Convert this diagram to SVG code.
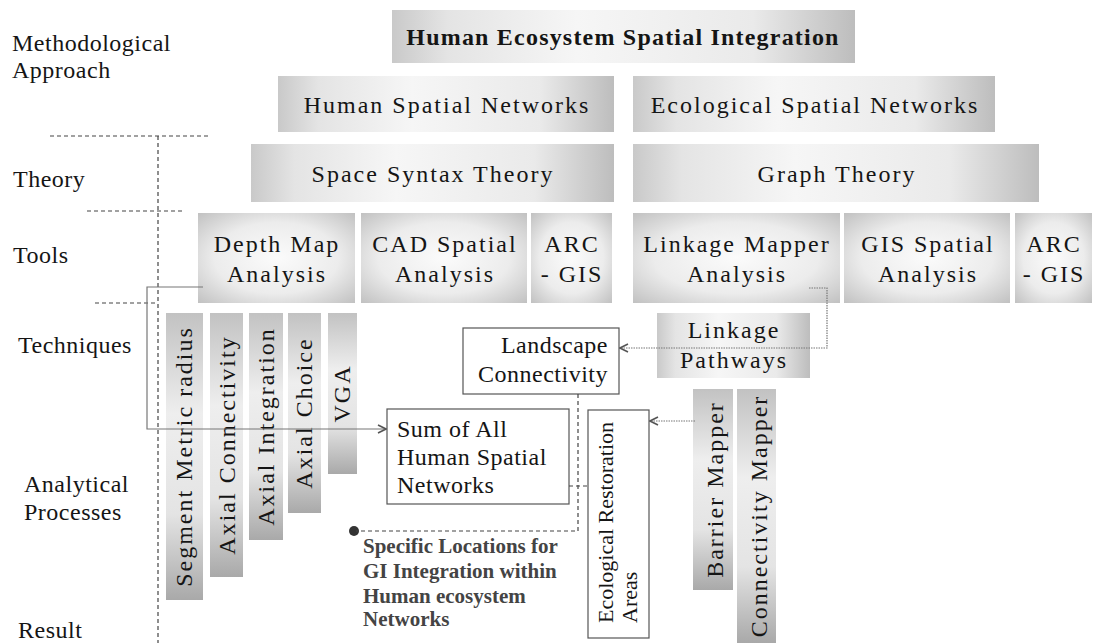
<svg xmlns="http://www.w3.org/2000/svg" width="1094" height="643" viewBox="0 0 1094 643">
  <defs>
    <!-- shaded fills for the grey boxes -->
    <linearGradient id="gBand" x1="0" y1="0" x2="1" y2="0">
      <stop offset="0" stop-color="#c9c9c9"/>
      <stop offset="0.12" stop-color="#e4e4e4"/>
      <stop offset="0.4" stop-color="#f6f6f6"/>
      <stop offset="0.78" stop-color="#eaeaea"/>
      <stop offset="1" stop-color="#bdbdbd"/>
    </linearGradient>
    <radialGradient id="gTool" cx="0.5" cy="0.5" r="0.72">
      <stop offset="0" stop-color="#fbfbfb"/>
      <stop offset="0.55" stop-color="#ececec"/>
      <stop offset="1" stop-color="#bfbfbf"/>
    </radialGradient>
    <linearGradient id="gBar" x1="0" y1="0" x2="0" y2="1">
      <stop offset="0" stop-color="#c2c2c2"/>
      <stop offset="0.35" stop-color="#eeeeee"/>
      <stop offset="0.7" stop-color="#e4e4e4"/>
      <stop offset="1" stop-color="#a9a9a9"/>
    </linearGradient>
    <marker id="arr" viewBox="0 0 10 10" refX="9" refY="5" markerWidth="10" markerHeight="10" markerUnits="userSpaceOnUse" orient="auto">
      <path d="M1,1 L9,5 L1,9" fill="none" stroke="#555" stroke-width="1.6"/>
    </marker>
    <style>
      text { font-family: "Liberation Serif", "Times New Roman", serif; fill: #151515; }
      .lbl { font-size: 24px; letter-spacing: 0.5px; }
      .ttl { font-size: 24px; font-weight: bold; letter-spacing: 1.2px; text-anchor: middle; }
      .bx { font-size: 24px; letter-spacing: 2px; text-anchor: middle; }
      .band { fill: url(#gBand); }
      .tool { fill: url(#gTool); }
      .bar { fill: url(#gBar); }
      .wbox { fill: #fff; stroke: #555; stroke-width: 1.2; }
      .wt { font-size: 24px; letter-spacing: 0.5px; }
      .eco { font-size: 22px; }
      .spec { font-size: 21px; font-weight: bold; fill: #444; }
      .rule { fill: none; stroke: #444; stroke-width: 1.2; stroke-dasharray: 4 3; }
      .link { fill: none; stroke: #777; stroke-width: 1.2; }
      .dot { stroke-dasharray: 1.5 1; }
    </style>
  </defs>

  <rect width="1094" height="643" fill="#fff"/>

  <!-- row labels -->
  <g id="row-labels">
    <text class="lbl" x="12" y="51">Methodological</text>
    <text class="lbl" x="12" y="78">Approach</text>
    <text class="lbl" x="13" y="187">Theory</text>
    <text class="lbl" x="13" y="263">Tools</text>
    <text class="lbl" x="18" y="353">Techniques</text>
    <text class="lbl" x="24" y="492">Analytical</text>
    <text class="lbl" x="24" y="520">Processes</text>
    <text class="lbl" x="18" y="638">Result</text>
  </g>

  <!-- row separators -->
  <g id="separators">
    <path class="rule" d="M50,136 H208"/>
    <path class="rule" d="M87,211 H183"/>
    <path class="rule" d="M95,303 H157"/>
    <path class="rule" d="M158,136 V643"/>
  </g>

  <!-- approach / theory -->
  <g id="n-title">
    <rect class="band" x="392" y="10" width="463" height="53"/>
    <text class="ttl" x="623" y="45">Human Ecosystem Spatial Integration</text>
  </g>
  <g id="n-human-networks">
    <rect class="band" x="278" y="76" width="336" height="56"/>
    <text class="bx" x="447" y="113">Human Spatial Networks</text>
  </g>
  <g id="n-eco-networks">
    <rect class="band" x="633" y="76" width="362" height="56"/>
    <text class="bx" x="815" y="113">Ecological Spatial Networks</text>
  </g>
  <g id="n-space-syntax">
    <rect class="band" x="251" y="144" width="363" height="58"/>
    <text class="bx" x="433" y="182">Space Syntax Theory</text>
  </g>
  <g id="n-graph-theory">
    <rect class="band" x="633" y="144" width="406" height="58"/>
    <text class="bx" x="837" y="182">Graph Theory</text>
  </g>

  <!-- tools -->
  <g id="n-depthmap">
    <rect class="tool" x="198" y="213" width="157" height="90"/>
    <text class="bx" x="277" y="252">Depth Map</text>
    <text class="bx" x="277" y="282">Analysis</text>
  </g>
  <g id="n-cad">
    <rect class="tool" x="361" y="213" width="166" height="90"/>
    <text class="bx" x="445" y="252">CAD Spatial</text>
    <text class="bx" x="445" y="282">Analysis</text>
  </g>
  <g id="n-arcgis-1">
    <rect class="tool" x="531" y="213" width="81" height="90"/>
    <text class="bx" x="572" y="252">ARC</text>
    <text class="bx" x="572" y="282">- GIS</text>
  </g>
  <g id="n-linkage-mapper">
    <rect class="tool" x="633" y="213" width="207" height="90"/>
    <text class="bx" x="737" y="252">Linkage Mapper</text>
    <text class="bx" x="737" y="282">Analysis</text>
  </g>
  <g id="n-gis-spatial">
    <rect class="tool" x="844" y="213" width="166" height="90"/>
    <text class="bx" x="928" y="252">GIS Spatial</text>
    <text class="bx" x="928" y="282">Analysis</text>
  </g>
  <g id="n-arcgis-2">
    <rect class="tool" x="1015" y="213" width="77" height="90"/>
    <text class="bx" x="1054" y="252">ARC</text>
    <text class="bx" x="1054" y="282">- GIS</text>
  </g>

  <!-- space syntax techniques (vertical bars) -->
  <g id="n-segment-metric">
    <rect class="bar" x="166" y="313" width="37" height="287"/>
    <text class="bx" transform="translate(192,456.5) rotate(-90)">Segment Metric radius</text>
  </g>
  <g id="n-axial-connectivity">
    <rect class="bar" x="210" y="313" width="33" height="264"/>
    <text class="bx" transform="translate(235,445) rotate(-90)">Axial Connectivity</text>
  </g>
  <g id="n-axial-integration">
    <rect class="bar" x="249" y="313" width="34" height="227"/>
    <text class="bx" transform="translate(274,426.5) rotate(-90)">Axial Integration</text>
  </g>
  <g id="n-axial-choice">
    <rect class="bar" x="288" y="313" width="33" height="200"/>
    <text class="bx" transform="translate(312,413) rotate(-90)">Axial Choice</text>
  </g>
  <g id="n-vga">
    <rect class="bar" x="328" y="313" width="29" height="161"/>
    <text class="bx" transform="translate(350,393.5) rotate(-90)">VGA</text>
  </g>

  <!-- linkage mapper techniques -->
  <g id="n-linkage-pathways">
    <rect class="band" x="657" y="313" width="153" height="65"/>
    <text class="bx" x="734" y="338">Linkage</text>
    <text class="bx" x="734" y="368">Pathways</text>
  </g>
  <g id="n-barrier-mapper">
    <rect class="bar" x="693" y="389" width="40" height="201"/>
    <text class="bx" transform="translate(723,489.5) rotate(-90)">Barrier Mapper</text>
  </g>
  <g id="n-connectivity-mapper">
    <rect class="bar" x="737" y="389" width="39" height="254"/>
    <text class="bx" transform="translate(767,516) rotate(-90)">Connectivity Mapper</text>
  </g>

  <!-- outlined outcome boxes -->
  <g id="n-landscape">
    <rect class="wbox" x="463" y="328" width="156" height="66"/>
    <text class="wt" x="608" y="353" text-anchor="end">Landscape</text>
    <text class="wt" x="608" y="382" text-anchor="end">Connectivity</text>
  </g>
  <g id="n-sum-human">
    <rect class="wbox" x="387" y="409" width="182" height="95"/>
    <text class="wt" x="397" y="437">Sum of All</text>
    <text class="wt" x="397" y="465">Human Spatial</text>
    <text class="wt" x="397" y="493">Networks</text>
  </g>
  <g id="n-eco-restoration">
    <rect class="wbox" x="588" y="410" width="61" height="228"/>
    <text class="eco" transform="translate(613,623) rotate(-90)">Ecological Restoration</text>
    <text class="eco" transform="translate(637,623) rotate(-90)">Areas</text>
  </g>
  <g id="n-result">
    <circle cx="354" cy="531" r="5" fill="#333"/>
    <text class="spec" x="363" y="553">Specific Locations for</text>
    <text class="spec" x="363" y="578">GI Integration within</text>
    <text class="spec" x="363" y="603">Human ecosystem</text>
    <text class="spec" x="363" y="626">Networks</text>
  </g>

  <!-- connectors -->
  <g id="connectors">
    <path class="link" d="M203,287 H147 V429 H386" marker-end="url(#arr)"/>
    <path class="link dot" d="M809,288 H827 V348 H620" marker-end="url(#arr)"/>
    <path class="link dot" d="M695,421 H650" marker-end="url(#arr)"/>
    <path class="rule" d="M578,394 V531 H356"/>
    <path class="rule" d="M569,486 H588"/>
  </g>
</svg>
